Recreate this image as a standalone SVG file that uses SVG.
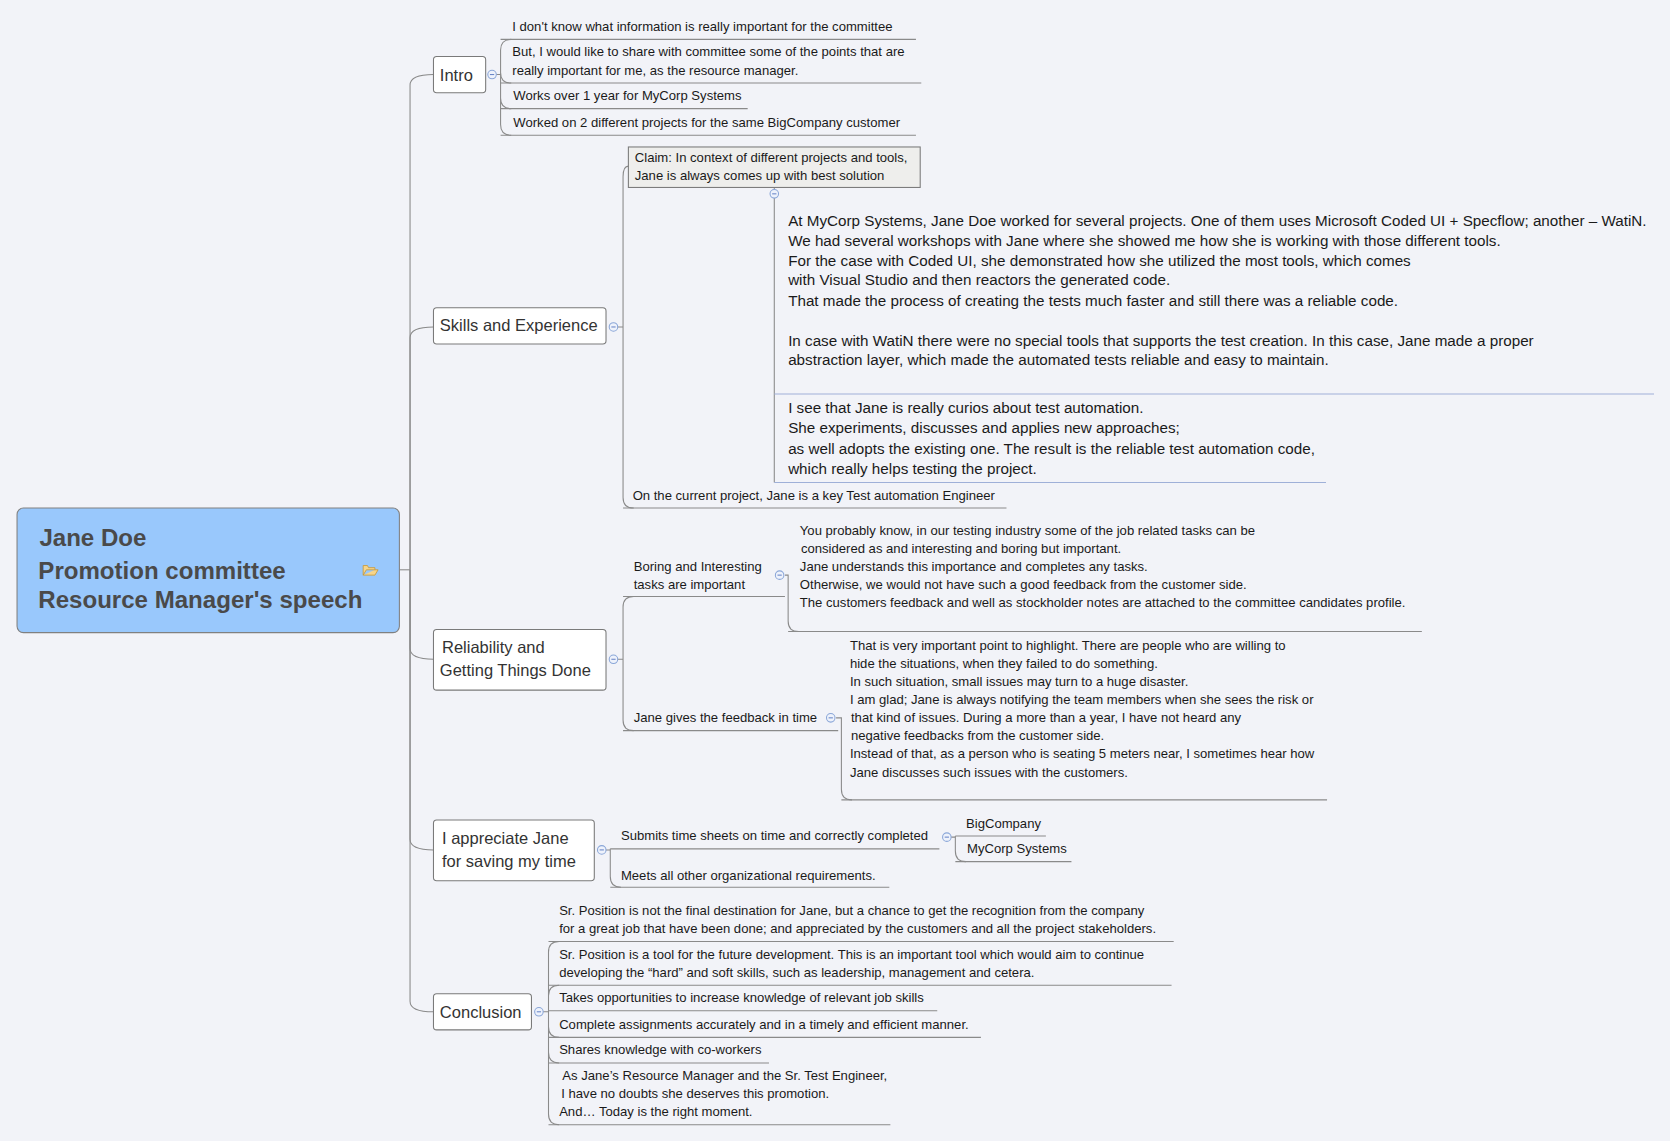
<svg xmlns="http://www.w3.org/2000/svg" width="1670" height="1141" viewBox="0 0 1670 1141">
<defs>
<g id="mk"><circle cx="0" cy="0" r="4" fill="#eef2fb" stroke="#8aa6d8" stroke-width="1"/><line x1="-2" y1="0" x2="2" y2="0" stroke="#6a86c8" stroke-width="1"/></g>
</defs>
<style>
text{font-family:"Liberation Sans",Arial,sans-serif;fill:#1a1a1a}
.s{font-size:12.3px}
.l{font-size:14.3px}
.b{font-size:15.5px;fill:#333}
.r{font-size:22.6px;font-weight:bold;fill:#4a4a4a}
.box{fill:#fff;stroke:#7a7a7a;stroke-width:1}
.c{fill:none;stroke:#8a8a8a;stroke-width:1}
.u{stroke:#8a8a8a;stroke-width:1}
.ub{stroke:#9fb0d8;stroke-width:1}
</style>
<rect width="1670" height="1141" fill="#f2f3f8"/>
<g transform="scale(1.06505)">
<g id="connectors">
<path class="c" d="M375 535H385"/>
<path class="c" d="M385 535V80Q385 70 407 70"/>
<path class="c" d="M385 535V317Q385 307 407 307"/>
<path class="c" d="M385 535V609Q385 619 407 619"/>
<path class="c" d="M385 535V788Q385 798 407 798"/>
<path class="c" d="M385 535V940Q385 950 407 950"/>
<path class="c" d="M462 70H470M470 70V47Q470 37 480 37M470 70V68Q470 78 480 78M470 70V92Q470 102 480 102M470 70V117Q470 127 480 127"/>
<path class="c" d="M576 307H585M585 307V166Q585 156 590 156M585 307V467Q585 477 595 477"/>
<path class="c" d="M727 176V453"/>
<path class="c" d="M576 619H585M585 619V570Q585 560 595 560M585 619V676Q585 686 595 686"/>
<path class="c" d="M737 540H740V583Q740 593 750 593"/>
<path class="c" d="M785 674H790V741Q790 751 800 751"/>
<path class="c" d="M565 798H573V797M573 798V823Q573 833 583 833"/>
<path class="c" d="M893 786H897V785M897 786V799Q897 809 907 809"/>
<path class="c" d="M506 950H515M515 950V894Q515 884 525 884M515 950V935Q515 925 525 925M515 950V949M515 950V964Q515 974 525 974M515 950V988Q515 998 525 998M515 950V1046Q515 1056 525 1056"/>
</g>
<g id="root">
<rect x="16" y="477" width="359" height="117" rx="6" fill="#99c8fc" stroke="#808080"/>
<text class="r" x="37" y="513">Jane Doe</text>
<text class="r" x="36" y="544">Promotion committee</text>
<text class="r" x="36" y="571">Resource Manager's speech</text>
<path d="M341 540V531H345L346 533H352V535H344L341 540H352L355 535H352" fill="#f7d58a" stroke="#c89a3c" stroke-width="0.8"/>
</g>
<g id="intro">
<rect class="box" x="407" y="53" width="49" height="34" rx="3"/>
<text class="b" x="413" y="76">Intro</text>
<use href="#mk" x="462" y="70"/>
<text class="s" x="481" y="29">I don't know what information is really important for the committee</text>
<line class="u" x1="470" y1="37" x2="860" y2="37"/>
<text class="s" x="481" y="53">But, I would like to share with committee some of the points that are</text>
<text class="s" x="481" y="70">really important for me, as the resource manager.</text>
<line class="u" x1="470" y1="78" x2="865" y2="78"/>
<text class="s" x="482" y="94">Works over 1 year for MyCorp Systems</text>
<line class="u" x1="470" y1="102" x2="702" y2="102"/>
<text class="s" x="482" y="119">Worked on 2 different projects for the same BigCompany customer</text>
<line class="u" x1="470" y1="127" x2="860" y2="127"/>
</g>
<g id="skills">
<rect class="box" x="407" y="289" width="162" height="34" rx="3"/>
<text class="b" x="413" y="311">Skills and Experience</text>
<use href="#mk" x="576" y="307"/>
<rect x="590" y="138" width="274" height="38" fill="#eeeeec" stroke="#7a7a7a"/>
<text class="s" x="596" y="152">Claim: In context of different projects and tools,</text>
<text class="s" x="596" y="169">Jane is always comes up with best solution</text>
<use href="#mk" x="727" y="182"/>
<text class="l" x="740" y="212">At MyCorp Systems, Jane Doe worked for several projects. One of them uses Microsoft Coded UI + Specflow; another – WatiN.</text>
<text class="l" x="740" y="231">We had several workshops with Jane where she showed me how she is working with those different tools.</text>
<text class="l" x="740" y="250">For the case with Coded UI, she demonstrated how she utilized the most tools, which comes</text>
<text class="l" x="740" y="268">with Visual Studio and then reactors the generated code.</text>
<text class="l" x="740" y="287">That made the process of creating the tests much faster and still there was a reliable code.</text>
<text class="l" x="740" y="325">In case with WatiN there were no special tools that supports the test creation. In this case, Jane made a proper</text>
<text class="l" x="740" y="343">abstraction layer, which made the automated tests reliable and easy to maintain.</text>
<line class="ub" x1="727" y1="370" x2="1553" y2="370"/>
<text class="l" x="740" y="388">I see that Jane is really curios about test automation.</text>
<text class="l" x="740" y="407">She experiments, discusses and applies new approaches;</text>
<text class="l" x="740" y="426">as well adopts the existing one. The result is the reliable test automation code,</text>
<text class="l" x="740" y="445">which really helps testing the project.</text>
<line class="ub" x1="727" y1="453" x2="1245" y2="453"/>
<text class="s" x="594" y="469">On the current project, Jane is a key Test automation Engineer</text>
<line class="u" x1="585" y1="477" x2="945" y2="477"/>
</g>
<g id="reliability">
<rect class="box" x="407" y="591" width="162" height="57" rx="3"/>
<text class="b" x="415" y="613">Reliability and</text>
<text class="b" x="413" y="635">Getting Things Done</text>
<use href="#mk" x="576" y="619"/>
<text class="s" x="595" y="536">Boring and Interesting</text>
<text class="s" x="595" y="553">tasks are important</text>
<line class="u" x1="585" y1="560" x2="737" y2="560"/>
<use href="#mk" x="732" y="540"/>
<text class="s" x="751" y="502">You probably know, in our testing industry some of the job related tasks can be</text>
<text class="s" x="752" y="519">considered as and  interesting and boring but important.</text>
<text class="s" x="751" y="536">Jane understands this importance and completes any tasks.</text>
<text class="s" x="751" y="553">Otherwise, we would not have such a good feedback from the customer side.</text>
<text class="s" x="751" y="570">The customers feedback and well as stockholder notes are attached to the committee candidates profile.</text>
<line class="u" x1="740" y1="593" x2="1335" y2="593"/>
<text class="s" x="595" y="678">Jane gives the feedback in time</text>
<line class="u" x1="585" y1="686" x2="787" y2="686"/>
<use href="#mk" x="780" y="674"/>
<text class="s" x="798" y="610">That is very important point to highlight.  There are people who are willing to</text>
<text class="s" x="798" y="627">hide the situations, when they failed to do something.</text>
<text class="s" x="798" y="644">In such situation, small issues may turn to a huge disaster.</text>
<text class="s" x="798" y="661">I am glad; Jane is always notifying the team members when she sees the risk or</text>
<text class="s" x="799" y="678">that kind of issues. During a more than a year, I have not heard any</text>
<text class="s" x="799" y="695">negative feedbacks from the customer side.</text>
<text class="s" x="798" y="712">Instead of that, as a person who is seating 5 meters near, I sometimes hear how</text>
<text class="s" x="798" y="730">Jane discusses such issues with the customers.</text>
<line class="u" x1="790" y1="751" x2="1246" y2="751"/>
</g>
<g id="appreciate">
<rect class="box" x="407" y="770" width="151" height="57" rx="3"/>
<text class="b" x="415" y="792">I appreciate Jane</text>
<text class="b" x="415" y="814">for saving my time</text>
<use href="#mk" x="565" y="798"/>
<text class="s" x="583" y="789">Submits time sheets on time and correctly completed</text>
<line class="u" x1="573" y1="797" x2="882" y2="797"/>
<use href="#mk" x="889" y="786"/>
<text class="s" x="583" y="826">Meets all other organizational requirements.</text>
<line class="u" x1="573" y1="833" x2="835" y2="833"/>
<text class="s" x="907" y="777">BigCompany</text>
<line class="u" x1="897" y1="785" x2="982" y2="785"/>
<text class="s" x="908" y="801">MyCorp Systems</text>
<line class="u" x1="897" y1="809" x2="1006" y2="809"/>
</g>
<g id="conclusion">
<rect class="box" x="407" y="933" width="92" height="34" rx="3"/>
<text class="b" x="413" y="956">Conclusion</text>
<use href="#mk" x="506" y="950"/>
<text class="s" x="525" y="859">Sr. Position is not the final destination for Jane, but a chance to get the recognition from the company</text>
<text class="s" x="525" y="876">for a great job that have been done; and appreciated by the customers and all the project stakeholders.</text>
<line class="u" x1="515" y1="884" x2="1102" y2="884"/>
<text class="s" x="525" y="900">Sr. Position is a tool for the future development. This is an important  tool which would aim to continue</text>
<text class="s" x="525" y="917">developing the “hard” and soft skills, such as leadership, management and cetera.</text>
<line class="u" x1="515" y1="925" x2="1100" y2="925"/>
<text class="s" x="525" y="941">Takes opportunities to increase knowledge of relevant job skills</text>
<line class="u" x1="515" y1="949" x2="880" y2="949"/>
<text class="s" x="525" y="966">Complete assignments accurately and in a timely and efficient manner.</text>
<line class="u" x1="515" y1="974" x2="921" y2="974"/>
<text class="s" x="525" y="990">Shares knowledge with co-workers</text>
<line class="u" x1="515" y1="998" x2="722" y2="998"/>
<text class="s" x="528" y="1014">As Jane’s Resource Manager and the Sr. Test Engineer,</text>
<text class="s" x="527" y="1031">I have no doubts she deserves this promotion.</text>
<text class="s" x="525" y="1048">And… Today is the right moment.</text>
<line class="u" x1="515" y1="1056" x2="836" y2="1056"/>
</g>
</g>
</svg>
